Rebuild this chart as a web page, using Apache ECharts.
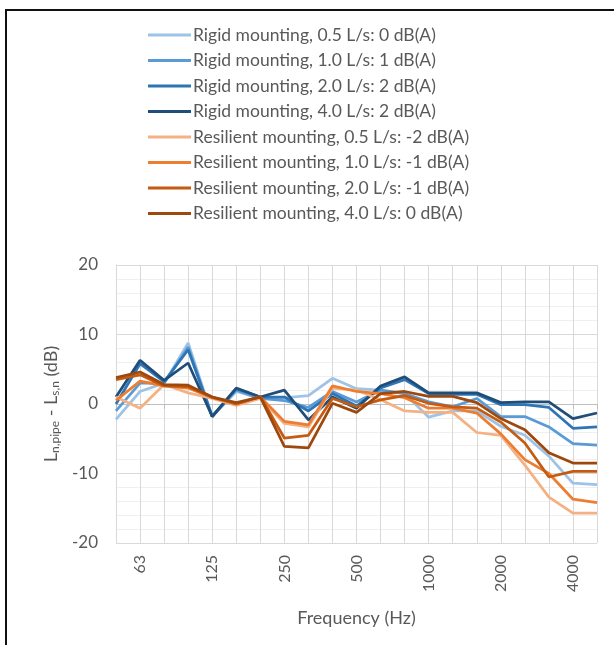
<!DOCTYPE html>
<html>
<head>
<meta charset="utf-8">
<script src="https://cdn.jsdelivr.net/npm/echarts@6/dist/echarts.min.js"></script>
<style>
html,body{margin:0;padding:0;background:#fff;}
#chart{width:614px;height:645px;}
</style>
</head>
<body>
<div id="chart"></div>
<script>
var categories = ['50','63','80','100','125','160','200','250','315','400','500','630','800','1000','1250','1600','2000','2500','3150','4000','5000'];
var seriesNames = [
  'Rigid mounting, 0.5 L/s: 0 dB(A)',
  'Rigid mounting, 1.0 L/s: 1 dB(A)',
  'Rigid mounting, 2.0 L/s: 2 dB(A)',
  'Rigid mounting, 4.0 L/s: 2 dB(A)',
  'Resilient mounting, 0.5 L/s: -2 dB(A)',
  'Resilient mounting, 1.0 L/s: -1 dB(A)',
  'Resilient mounting, 2.0 L/s: -1 dB(A)',
  'Resilient mounting, 4.0 L/s: 0 dB(A)'
];
var rigid05 = [-2.2, 1.8, 3.0, 8.8, -1.8, 1.8, 0.8, 0.9, 1.2, 3.7, 2.2, 2.0, 1.5, -1.9, -1.0, -1.0, -3.2, -4.5, -7.5, -11.4, -11.6];
var rigid10 = [-1.0, 3.0, 3.0, 8.2, -1.8, 2.0, 0.8, 0.5, -0.5, 1.8, 0.3, 2.0, 1.5, 0.3, -0.4, 0.8, -1.8, -1.8, -3.3, -5.7, -5.9];
var rigid20 = [0.0, 5.8, 3.2, 7.8, -1.8, 2.2, 1.0, 1.0, -1.0, 1.5, -0.3, 2.3, 3.5, 1.5, 1.4, 1.4, -0.1, -0.1, -0.5, -3.5, -3.3];
var rigid40 = [1.0, 6.3, 3.4, 5.9, -1.8, 2.3, 1.0, 2.0, -2.3, 1.0, -0.6, 2.6, 3.9, 1.6, 1.6, 1.6, 0.2, 0.3, 0.3, -2.1, -1.3];
var resil05 = [1.0, -0.6, 2.8, 1.6, 0.8, -0.2, 0.8, -2.8, -3.3, 2.3, 2.0, 0.6, -1.0, -1.2, -1.2, -4.1, -4.5, -8.8, -13.4, -15.7, -15.7];
var resil10 = [0.5, 3.3, 2.6, 2.3, 0.9, 0.0, 1.0, -2.5, -3.0, 2.6, 1.8, 1.5, 0.9, -0.6, -0.6, -1.3, -4.3, -8.0, -10.0, -13.7, -14.2];
var resil20 = [3.5, 4.2, 2.6, 2.5, 1.0, 0.0, 1.1, -4.9, -4.5, 0.8, -0.4, 0.6, 1.2, 0.1, -0.4, -0.6, -2.6, -5.6, -10.5, -9.7, -9.7];
var resil40 = [3.8, 4.6, 2.8, 2.7, 1.0, 0.2, 1.0, -6.1, -6.3, 0.1, -1.2, 1.5, 1.8, 1.1, 1.1, 0.2, -2.1, -3.7, -7.0, -8.5, -8.5];
var colors = ['#9DC3E6', '#5B9BD5', '#2E75B6', '#1F4E79', '#F4B183', '#ED7D31', '#C55A11', '#9E480E'];
var allData = [rigid05, rigid10, rigid20, rigid40, resil05, resil10, resil20, resil40];

var font = 'Lato, "Liberation Sans", sans-serif';
var chart = echarts.init(document.getElementById('chart'), null, {renderer: 'canvas'});
var series = allData.map(function (d, i) {
  return {
    name: seriesNames[i],
    type: 'line',
    data: d,
    symbol: 'none',
    lineStyle: {width: 2.75, color: colors[i]},
    itemStyle: {color: colors[i]},
    z: 10 + i
  };
});
chart.setOption({
  animation: false,
  textStyle: {fontFamily: font},
  graphic: [{
    type: 'rect',
    shape: {x: 6, y: 10, width: 700, height: 700},
    style: {fill: 'none', stroke: '#111', lineWidth: 2},
    silent: true
  }],
  legend: {
    orient: 'vertical',
    left: 148,
    top: 25,
    padding: 0,
    itemWidth: 43,
    itemHeight: 3,
    itemGap: 5.5,
    icon: 'rect',
    textStyle: {fontSize: 17.5, lineHeight: 20, color: '#595959', fontFamily: font, padding: [0, 0, 0, -3]},
    data: seriesNames
  },
  grid: {left: 116, right: 17, top: 265, bottom: 102, containLabel: false},
  xAxis: {
    type: 'category',
    data: categories,
    boundaryGap: false,
    name: 'Frequency (Hz)',
    nameLocation: 'middle',
    nameGap: 66,
    nameTextStyle: {fontSize: 18, color: '#595959', fontFamily: font},
    axisLine: {show: true, lineStyle: {color: '#bfbfbf', width: 1}},
    axisTick: {show: true, interval: 0, length: 5, lineStyle: {color: '#bfbfbf'}},
    axisLabel: {
      rotate: 90,
      fontSize: 16,
      color: '#595959',
      margin: 12,
      interval: function (index) { return index % 3 === 1; }
    },
    splitLine: {show: true, interval: 0, lineStyle: {color: '#d9d9d9', width: 1}}
  },
  yAxis: {
    type: 'value',
    min: -20,
    max: 20,
    interval: 10,
    name: '{m|L}{s|n,pipe}{m| - L}{s|s,n}{m| (dB)}',
    nameLocation: 'middle',
    nameGap: 46,
    nameRotate: 90,
    nameTextStyle: {
      color: '#595959',
      rich: {
        m: {fontSize: 18, color: '#595959', fontFamily: font},
        s: {fontSize: 12, color: '#595959', fontFamily: font, verticalAlign: 'bottom', padding: [7, 0, 0, 0]}
      }
    },
    axisLine: {show: true, lineStyle: {color: '#d9d9d9'}},
    axisTick: {show: false},
    axisLabel: {fontSize: 17, color: '#595959', margin: 18},
    splitLine: {show: true, lineStyle: {color: '#d9d9d9', width: 1}},
    minorTick: {show: false, splitNumber: 5},
    minorSplitLine: {show: true, lineStyle: {color: '#efefef', width: 1}}
  },
  series: series
});
</script>
</body>
</html>
